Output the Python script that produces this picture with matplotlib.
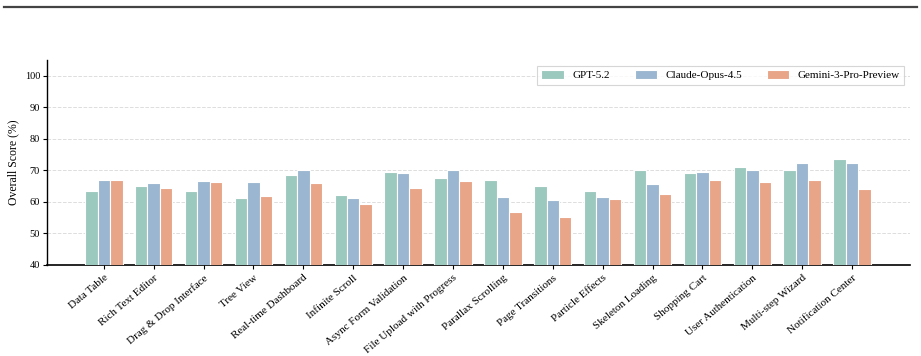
import numpy as np
import matplotlib
matplotlib.use("Agg")
import matplotlib.pyplot as plt
from matplotlib.lines import Line2D

plt.rcParams['font.family'] = ['Liberation Serif', 'DejaVu Serif']

# === Data ===
categories = ["Data Table", "Rich Text Editor", "Drag & Drop Interface", "Tree View",
              "Real-time Dashboard", "Infinite Scroll", "Async Form Validation",
              "File Upload with Progress", "Parallax Scrolling", "Page Transitions",
              "Particle Effects", "Skeleton Loading", "Shopping Cart",
              "User Authentication", "Multi-step Wizard", "Notification Center"]
models = ["GPT-5.2", "Claude-Opus-4.5", "Gemini-3-Pro-Preview"]
gpt = [63.3, 64.9, 63.6, 61.3, 68.4, 62.1, 69.6, 67.7, 67.0, 65.2, 63.4, 70.0, 69.1, 71.1, 70.0, 73.6]
claude = [66.8, 66.0, 66.7, 66.3, 70.0, 61.2, 69.3, 70.2, 61.6, 60.7, 61.4, 65.7, 69.4, 70.2, 72.3, 72.2]
gemini = [67.1, 64.5, 66.3, 61.9, 66.0, 59.2, 64.5, 66.6, 56.7, 55.1, 60.9, 62.6, 66.9, 66.3, 66.8, 64.0]
colors = ["#9cc9be", "#9bb6d0", "#e8a588"]

# === Plotting ===
fig = plt.figure(figsize=(9.21, 3.56), dpi=100)
ax = fig.add_axes([0.051, 0.256, 0.937, 0.575])

x = np.arange(len(categories))
w = 0.25
for i, (vals, name) in enumerate(zip([gpt, claude, gemini], models)):
    ax.bar(x + (i - 1) * w, vals, width=w, color=colors[i], edgecolor="white",
           linewidth=0.8, label=name, zorder=3)

ax.set_ylim(40, 105)
ax.set_xlim(-1.14, 16.16)
ax.set_yticks(range(40, 101, 10))
ax.set_xticks(x)
ax.set_xticklabels(categories, rotation=40, ha="right", rotation_mode="anchor", fontsize=8)
ax.tick_params(axis="y", labelsize=7.5, length=3, pad=2)
ax.tick_params(axis="x", length=3, pad=3)
ax.set_ylabel("Overall Score (%)", fontsize=8.5, labelpad=4)
ax.yaxis.grid(True, linestyle="--", color="#dddddd", linewidth=0.7, zorder=0)
ax.set_axisbelow(True)
for s in ["top", "right"]:
    ax.spines[s].set_visible(False)
ax.spines["left"].set_linewidth(1.0)
ax.spines["bottom"].set_linewidth(1.2)

leg = ax.legend(loc="upper right", ncol=3, fontsize=8, frameon=True, fancybox=False,
                edgecolor="#cccccc", borderaxespad=0.5, columnspacing=2.2,
                handlelength=2.0, handleheight=0.8)
leg.get_frame().set_linewidth(0.8)

fig.add_artist(Line2D([0.004, 0.996], [0.98, 0.98], color="#444444", linewidth=1.6))

fig.savefig("out.png", dpi=100)
